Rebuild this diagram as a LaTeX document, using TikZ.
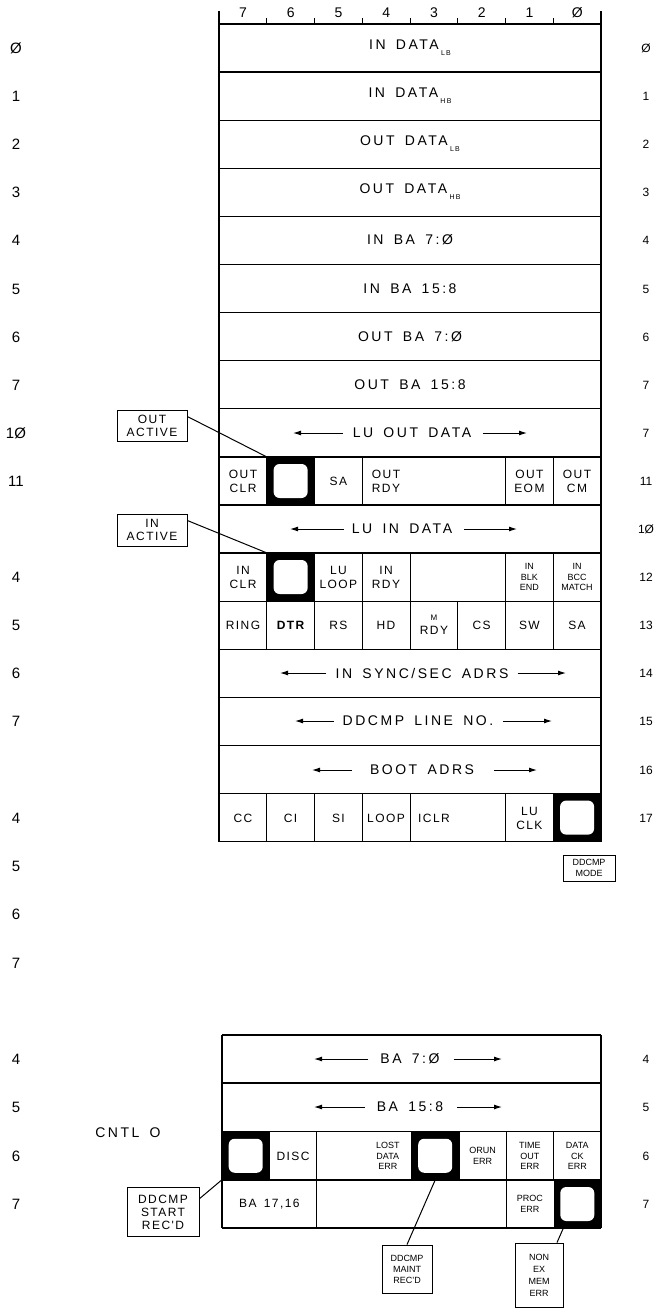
\documentclass[tikz,border=0pt]{standalone}
\usepackage{fontspec}
\setmainfont{Liberation Sans}
\newfontfamily\spacedf[LetterSpace=18,WordSpace=1.6]{Liberation Sans}
\newfontfamily\cellf[LetterSpace=12,WordSpace=1.5]{Liberation Sans}
\usetikzlibrary{arrows.meta}
\tikzset{
  outline/.style={line width=1.3pt},
  divline/.style={line width=0.6pt},
  big/.style={font=\spacedf\fontsize{14}{16}\selectfont, inner sep=0pt},
  cel/.style={font=\cellf\fontsize{12}{14}\selectfont, align=center, inner sep=0pt},
  tiny/.style={font=\fontsize{9}{10.5}\selectfont, align=center, inner sep=0pt},
  num/.style={font=\fontsize{15}{15}\selectfont, inner sep=0pt},
  blk/.style={fill=black, draw=none, minimum width=47.6pt, minimum height=48pt, inner sep=0pt},
  wsq/.style={fill=white, draw=none, rounded corners=6pt, minimum width=34pt, minimum height=34pt, inner sep=0pt},
  lbl/.style={draw, line width=0.8pt, align=center, inner sep=0pt, font=\cellf\fontsize{12}{13}\selectfont},
  arr/.style={line width=1pt, -{Latex[length=8pt,width=5pt]}},
  leader/.style={line width=1pt}
}
\newcommand{\sub}[1]{\,\raisebox{-6pt}{\fontsize{7}{7}\selectfont #1}}
\begin{document}
\begin{tikzpicture}[x=1pt,y=-1pt]
\useasboundingbox (0,0) rectangle (669,1310);
% ---------- header ----------
\draw[outline] (219,24) -- (601,24);
\draw[outline] (219,11) -- (219,24);
\draw[outline] (601,11) -- (601,36);
\foreach \k in {1,...,7} \draw[divline] ({219+47.75*\k},18) -- ({219+47.75*\k},24);
\foreach \b [count=\k from 0] in {7,6,5,4,3,2,1,Ø}
  \node[big] (h\k) at ({243+47.75*\k},13) {\b};
% ---------- top register block ----------
\foreach \i in {0,...,17} \draw[outline] (219,{24+48.1*\i}) -- (601,{24+48.1*\i});
\draw[outline] (219,24) -- (219,841.7);
\draw[outline] (601,24) -- (601,841.7);
% full-width rows
\node[big] (r0) at (410,48) {IN DATA\sub{LB}};
\node[big] (r1) at (410,96) {IN DATA\sub{HB}};
\node[big] (r2) at (410,144) {OUT DATA\sub{LB}};
\node[big] (r3) at (410,192) {OUT DATA\sub{HB}};
\node[big] (r4) at (410,240) {IN BA 7:Ø};
\node[big] (r5) at (410,289) {IN BA 15:8};
\node[big] (r6) at (410,337) {OUT BA 7:Ø};
\node[big] (r7) at (410,385) {OUT BA 15:8};
\node[big] (r8) at (412,433) {LU OUT DATA};
\coordinate (r8l) at (293,433); \coordinate (r8r) at (527,433);
\draw[arr, shorten <=10pt] (r8.west) -- (r8l);
\draw[arr, shorten <=12pt] (r8.east) -- (r8r);
\node[big] (r10) at (402,529) {LU IN DATA};
\coordinate (r10l) at (290,529); \coordinate (r10r) at (517,529);
\draw[arr, shorten <=8pt] (r10.west) -- (r10l);
\draw[arr, shorten <=12pt] (r10.east) -- (r10r);
\node[big] (r13) at (422,673) {IN SYNC/SEC ADRS};
\coordinate (r13l) at (280,673); \coordinate (r13r) at (566,673);
\draw[arr, shorten <=9pt] (r13.west) -- (r13l);
\draw[arr, shorten <=9pt] (r13.east) -- (r13r);
\node[big] (r14) at (418,721) {DDCMP LINE NO.};
\coordinate (r14l) at (295,721); \coordinate (r14r) at (552,721);
\draw[arr, shorten <=9pt] (r14.west) -- (r14l);
\draw[arr, shorten <=10pt] (r14.east) -- (r14r);
\node[big] (r15) at (422,770) {BOOT ADRS};
\coordinate (r15l) at (312,770); \coordinate (r15r) at (537,770);
\draw[arr, shorten <=18pt] (r15.west) -- (r15l);
\draw[arr, shorten <=20pt] (r15.east) -- (r15r);
% row 11 (index 9)
\foreach \x in {266.75,314.5,362.25,505.5,553.25} \draw[divline] (\x,456.9) -- (\x,505);
\node[cel] (c9a) at (243,481) {OUT\\CLR};
\node[blk] (k9) at (290.6,481) {};
\node[wsq] (k9w) at (k9) {};
\node[cel] (c9c) at (338.4,481) {SA};
\node[cel] (c9d) at (386,481) {OUT\\RDY};
\node[cel] (c9g) at (529.4,481) {OUT\\EOM};
\node[cel] (c9h) at (577,481) {OUT\\CM};
% row 13 (index 11)
\foreach \x in {266.75,314.5,362.25,410,505.5,553.25} \draw[divline] (\x,553.1) -- (\x,601.2);
\node[cel] (c11a) at (243,577) {IN\\CLR};
\node[blk] (k11) at (290.6,577) {};
\node[wsq] (k11w) at (k11) {};
\node[cel] (c11c) at (338.4,577) {LU\\LOOP};
\node[cel] (c11d) at (386,577) {IN\\RDY};
\node[tiny] (c11g) at (529.4,577) {IN\\BLK\\END};
\node[tiny] (c11h) at (577,577) {IN\\BCC\\MATCH};
% row 14 (index 12)
\foreach \x in {266.75,314.5,362.25,410,457.75,505.5,553.25} \draw[divline] (\x,601.2) -- (\x,649.3);
\node[cel] (c12a) at (243,625) {RING};
\node[cel, font=\cellf\fontsize{12}{14}\selectfont\bfseries] (c12b) at (290.6,625) {DTR};
\node[cel] (c12c) at (338.4,625) {RS};
\node[cel] (c12d) at (386,625) {HD};
\node[cel] (c12e) at (434,625) {{\fontsize{8}{9}\selectfont M}\\RDY};
\node[cel] (c12f) at (481.6,625) {CS};
\node[cel] (c12g) at (529.4,625) {SW};
\node[cel] (c12h) at (577,625) {SA};
% row 17 (index 16)
\foreach \x in {266.75,314.5,362.25,410,505.5} \draw[divline] (\x,793.6) -- (\x,841.7);
\node[cel] (c16a) at (243,818) {CC};
\node[cel] (c16b) at (290.6,818) {CI};
\node[cel] (c16c) at (338.4,818) {SI};
\node[cel] (c16d) at (386,818) {LOOP};
\node[cel] (c16e) at (434,818) {ICLR};
\node[cel] (c16g) at (529.4,818) {LU\\CLK};
\node[blk] (k16) at (577.1,817.6) {};
\node[wsq] (k16w) at (k16) {};
% labels top
\node[lbl, minimum width=70pt, minimum height=31pt] (outact) at (152,426) {OUT\\ACTIVE};
\node[lbl, minimum width=70pt, minimum height=32pt] (inact) at (152,530) {IN\\ACTIVE};
\node[lbl, minimum width=52pt, minimum height=26pt, font=\fontsize{9}{10.5}\selectfont] (dmode) at (589,868) {DDCMP\\MODE};
\draw[leader] (outact.15) -- (k9.north west);
\draw[leader] (inact.15) -- (k11.north west);
% left numbers
\foreach \t/\y in {Ø/48,1/96,2/144,3/192,4/240,5/289,6/337,7/385,1Ø/433,11/481,4/577,5/625,6/673,7/721,4/818,5/866,6/914,7/963,4/1059,5/1107,6/1156,7/1204}
  \node[num] at (16,\y) {\t};
% right numbers
\foreach \t/\y in {Ø/48,1/96,2/144,3/192,4/240,5/289,6/337,7/385,7/433,11/481,1Ø/529,12/577,13/625,14/673,15/721,16/770,17/818,4/1059,5/1107,6/1156,7/1204}
  \node[num, font=\fontsize{12}{12}\selectfont] at (646,\y) {\t};
% ---------- bottom register block ----------
\foreach \yy in {1035,1083,1131.5,1180,1228} \draw[outline] (222,\yy) -- (601,\yy);
\draw[outline] (222,1035) -- (222,1228);
\draw[outline] (601,1035) -- (601,1228);
\node[big] (b0) at (410,1059) {BA 7:Ø};
\coordinate (b0l) at (314,1059); \coordinate (b0r) at (502,1059);
\draw[arr, shorten <=12pt] (b0.west) -- (b0l);
\draw[arr, shorten <=14pt] (b0.east) -- (b0r);
\node[big] (b1) at (410,1107) {BA 15:8};
\coordinate (b1l) at (314,1107); \coordinate (b1r) at (502,1107);
\draw[arr, shorten <=12pt] (b1.west) -- (b1l);
\draw[arr, shorten <=14pt] (b1.east) -- (b1r);
\foreach \x in {316.75,411.5,458.9,506.25,553.6} \draw[divline] (\x,1131.5) -- (\x,1180);
\node[blk] (kb0) at (245.7,1155.75) {};
\node[wsq] (kb0w) at (kb0) {};
\node[cel] (d1) at (293.1,1156) {DISC};
\node[tiny] (d3) at (387.8,1156) {LOST\\DATA\\ERR};
\node[blk] (kb4) at (435.2,1155.75) {};
\node[wsq] (kb4w) at (kb4) {};
\node[tiny] (d5) at (482.6,1156) {ORUN\\ERR};
\node[tiny] (d6) at (529.9,1156) {TIME\\OUT\\ERR};
\node[tiny] (d7) at (577.3,1156) {DATA\\CK\\ERR};
\foreach \x in {316.75,506.25} \draw[divline] (\x,1180) -- (\x,1228);
\node[cel] (e0) at (269.4,1204) {BA 17,16};
\node[tiny] (e6) at (529.9,1204) {PROC\\ERR};
\node[blk] (kb7) at (577.3,1204) {};
\node[wsq] (kb7w) at (kb7) {};
\node[big] (cntl) at (128,1133) {CNTL O};
% labels bottom
\node[lbl, minimum width=72pt, minimum height=49pt] (start) at (163,1212) {DDCMP\\START\\REC'D};
\node[lbl, minimum width=50pt, minimum height=48pt, font=\fontsize{9}{11}\selectfont] (maint) at (407,1269) {DDCMP\\MAINT\\REC'D};
\node[lbl, minimum width=48pt, minimum height=64pt, font=\fontsize{9}{12}\selectfont] (nonex) at (539,1275) {NON\\EX\\MEM\\ERR};
\draw[leader] (start.20) -- (kb0.south west);
\draw[leader] (maint.north) -- (kb4.south);
\draw[leader] ([xshift=18pt]nonex.north) -- ([xshift=10pt]kb7.south west);
\end{tikzpicture}
\end{document}
